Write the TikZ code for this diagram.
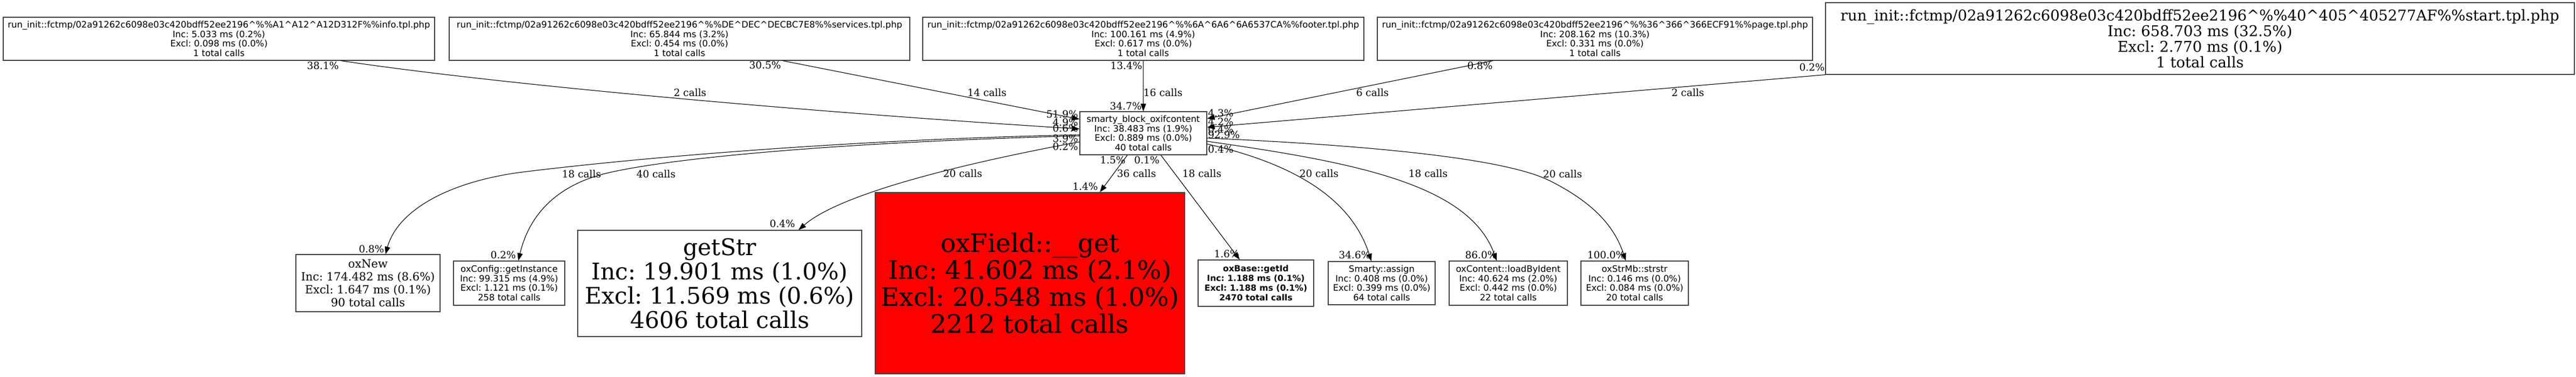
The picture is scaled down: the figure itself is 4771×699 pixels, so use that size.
\documentclass[tikz,border=0pt]{standalone}
\usepackage{fontspec}
\setmainfont{DejaVu Serif}
\setsansfont{DejaVu Sans}
\usetikzlibrary{arrows.meta}
\newcommand\crt{\textasciicircum}
\frenchspacing

\begin{document}
\begin{tikzpicture}[
        x=0.5pt, y=-0.5pt,
        fn/.style = {rectangle, draw=black!75, line width=0.6pt, inner sep=0pt, align=center},
        sz/.style 2 args = {minimum width=#1*0.5pt, minimum height=#2*0.5pt},
        small/.style = {font=\sffamily\fontsize{8.2}{8.75}\selectfont},
        pct/.style = {inner sep=0pt, font=\fontsize{9.25}{10}\selectfont},
        call/.style = {-{Triangle[length=7pt,width=5pt]}, line width=0.55pt}
    ]
        \useasboundingbox (0,0) rectangle (4771,699);
        % callers
        \node[fn, small, sz={799}{80}] (info) at (405.5,72) {run\_init::fctmp/02a91262c6098e03c420bdff52ee2196\crt\%\%A1\crt A12\crt A12D312F\%\%info.tpl.php\\Inc: 5.033 ms (0.2\%)\\Excl: 0.098 ms (0.0\%)\\1 total calls};
        \node[fn, small, sz={853}{80}] (serv) at (1258.5,72) {run\_init::fctmp/02a91262c6098e03c420bdff52ee2196\crt\%\%DE\crt DEC\crt DECBC7E8\%\%services.tpl.php\\Inc: 65.844 ms (3.2\%)\\Excl: 0.454 ms (0.0\%)\\1 total calls};
        \node[fn, small, sz={817}{80}] (foot) at (2117.5,72) {run\_init::fctmp/02a91262c6098e03c420bdff52ee2196\crt\%\%6A\crt 6A6\crt 6A6537CA\%\%footer.tpl.php\\Inc: 100.161 ms (4.9\%)\\Excl: 0.617 ms (0.0\%)\\1 total calls};
        \node[fn, small, sz={806}{80}] (page) at (2954,72) {run\_init::fctmp/02a91262c6098e03c420bdff52ee2196\crt\%\%36\crt 366\crt 366ECF91\%\%page.tpl.php\\Inc: 208.162 ms (10.3\%)\\Excl: 0.331 ms (0.0\%)\\1 total calls};
        \node[fn, sz={1387}{133}, font=\fontsize{13.75}{14.5}\selectfont] (start) at (4074.5,71.5) {run\_init::fctmp/02a91262c6098e03c420bdff52ee2196\crt\%\%40\crt 405\crt 405277AF\%\%start.tpl.php\\Inc: 658.703 ms (32.5\%)\\Excl: 2.770 ms (0.1\%)\\1 total calls};
        % the block
        \node[fn, small, sz={235}{80}] (blk) at (2117.5,247) {smarty\_block\_oxifcontent\\Inc: 38.483 ms (1.9\%)\\Excl: 0.889 ms (0.0\%)\\40 total calls};
        % callees
        \node[fn, sz={267}{106}, font=\fontsize{10.5}{12}\selectfont] (oxnew) at (681.5,525) {oxNew\\Inc: 174.482 ms (8.6\%)\\Excl: 1.647 ms (0.1\%)\\90 total calls};
        \node[fn, small, sz={206}{82}] (conf) at (943,525) {oxConfig::getInstance\\Inc: 99.315 ms (4.9\%)\\Excl: 1.121 ms (0.1\%)\\258 total calls};
        \node[fn, sz={526}{197}, font=\fontsize{21.25}{22.5}\selectfont] (getstr) at (1333,525.5) {getStr\\Inc: 19.901 ms (1.0\%)\\Excl: 11.569 ms (0.6\%)\\4606 total calls};
        \node[fn, fill=red, sz={573}{336}, font=\fontsize{23.5}{25}\selectfont] (field) at (1907.5,525) {oxField::\_\_get\\Inc: 41.602 ms (2.1\%)\\Excl: 20.548 ms (1.0\%)\\2212 total calls};
        \node[fn, sz={214}{86}, font=\sffamily\bfseries\fontsize{7.8}{9}\selectfont] (getid) at (2326,525) {oxBase::getId\\Inc: 1.188 ms (0.1\%)\\Excl: 1.188 ms (0.1\%)\\2470 total calls};
        \node[fn, small, sz={198}{80}] (assign) at (2559,525) {Smarty::assign\\Inc: 0.408 ms (0.0\%)\\Excl: 0.399 ms (0.0\%)\\64 total calls};
        \node[fn, small, sz={219}{82}] (load) at (2793.5,525) {oxContent::loadByIdent\\Inc: 40.624 ms (2.0\%)\\Excl: 0.442 ms (0.0\%)\\22 total calls};
        \node[fn, small, sz={199}{82}] (strstr) at (3027.5,525) {oxStrMb::strstr\\Inc: 0.146 ms (0.0\%)\\Excl: 0.084 ms (0.0\%)\\20 total calls};
        % incoming calls
        \draw[call] ([xshift=113pt]info.south) .. controls +(300,45) and +(-500,-31) .. ([yshift=4pt]blk.west);
        \draw[call] ([xshift=95.5pt]serv.south) -- ([yshift=13pt]blk.west);
        \draw[call] (foot.south) -- (blk.north);
        \draw[call] ([xshift=-94.5pt]page.south) -- ([yshift=13.5pt]blk.east);
        \draw[call] (start.south west) -- ([yshift=5.5pt]blk.east);
        % outgoing calls
        \draw[call] ([yshift=-1.5pt]blk.west) .. controls +(-400,8) and (1200,290) .. (960,320)
            .. controls (820,340) and (735,395) .. ([xshift=16.25pt]oxnew.north);
        \draw[call] ([yshift=-2.5pt]blk.west) .. controls +(-400,10) and (1250,290) .. (1120,322)
            .. controls (1010,350) and (975,420) .. ([xshift=8.5pt]conf.north);
        \draw[call] ([yshift=-8pt]blk.west) .. controls +(-200,37) and +(80,-70) .. ([xshift=73pt]getstr.north);
        \draw[call] ([xshift=-14.75pt]blk.south) -- ([xshift=64.75pt]field.north);
        \draw[call] ([xshift=16.25pt]blk.south) -- ([xshift=-15pt]getid.north);
        \draw[call] ([yshift=-10pt]blk.east) .. controls +(145,33) and +(-40,-125) .. ([xshift=-9.5pt]assign.north);
        \draw[call] ([yshift=-7.5pt]blk.east) .. controls +(265,38) and +(-52,-144) .. ([xshift=-10.75pt]load.north);
        \draw[call] ([yshift=-4.5pt]blk.east) .. controls +(265,12) and (2780,290) .. (2870,335)
            .. controls (2950,375) and +(-21,-64) .. ([xshift=-8.25pt]strstr.north);
        % labels
        \node[pct] (t-info) at (598,122) {38.1\%};
        \node[pct] (c-info) at (1278,172) {2 calls};
        \node[pct] (t-serv) at (1417,121) {30.5\%};
        \node[pct] (c-serv) at (1828,172) {14 calls};
        \node[pct] (t-foot) at (2086,122) {13.4\%};
        \node[pct] (c-foot) at (2154,172) {16 calls};
        \node[pct] (h-foot) at (2085,197) {34.7\%};
        \node[pct] (t-page) at (2741,122) {0.8\%};
        \node[pct] (c-page) at (2542,172) {6 calls};
        \node[pct] (t-start) at (3356,125) {0.2\%};
        \node[pct] (c-start) at (3126,172) {2 calls};
        \node[pct, anchor=east] (h-serv) at (1997,212) {51.9\%};
        \node[pct, anchor=east] (h-info) at (1997,227) {4.9\%};
        \node[pct, anchor=east] (t-conf) at (1997,238) {0.6\%};
        \node[pct, anchor=east] (t-new) at (1997,257) {3.9\%};
        \node[pct, anchor=east] (t-str) at (1997,272) {0.2\%};
        \node[pct, anchor=west] (h-page) at (2237,210) {4.3\%};
        \node[pct, anchor=west] (h-start) at (2237,226) {4.2\%};
        \node[pct, anchor=west] (t-strstr) at (2237,240) {0.4\%};
        \node[pct, anchor=west] (t-load) at (2237,250) {92.9\%};
        \node[pct, anchor=west] (t-assign) at (2237,277) {0.4\%};
        \node[pct] (c-new) at (1077,323) {18 calls};
        \node[pct] (h-new) at (688,462) {0.8\%};
        \node[pct] (c-conf) at (1215,323) {40 calls};
        \node[pct] (h-conf) at (932,473) {0.2\%};
        \node[pct] (c-str) at (1783,322) {20 calls};
        \node[pct] (h-str) at (1449,415) {0.4\%};
        \node[pct] (t-field) at (2061,297) {1.5\%};
        \node[pct] (c-field) at (2105,322) {36 calls};
        \node[pct] (h-field) at (2010,346) {1.4\%};
        \node[pct] (t-id) at (2124,297) {0.1\%};
        \node[pct] (c-id) at (2226,322) {18 calls};
        \node[pct] (h-id) at (2272,471) {1.6\%};
        \node[pct] (c-assign) at (2443,322) {20 calls};
        \node[pct] (h-assign) at (2509,473) {34.6\%};
        \node[pct] (c-load) at (2645,322) {18 calls};
        \node[pct] (h-load) at (2743,473) {86.0\%};
        \node[pct] (c-strstr) at (2894,323) {20 calls};
        \node[pct] (h-strstr) at (2975,473) {100.0\%};
    \end{tikzpicture}
\end{document}
